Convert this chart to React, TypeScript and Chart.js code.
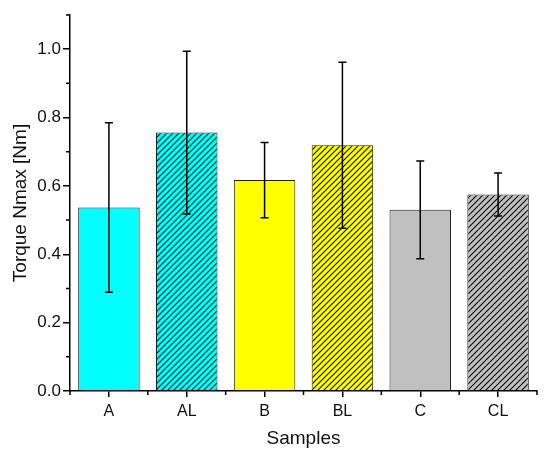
import React, { useEffect, useRef } from 'react';
import { Chart, registerables } from 'chart.js';

Chart.register(...registerables);

const categories = ['A', 'AL', 'B', 'BL', 'C', 'CL'];
const meanValues = [0.537, 0.756, 0.617, 0.719, 0.53, 0.575];
const errorValues = [0.248, 0.238, 0.11, 0.243, 0.143, 0.063];
const barColors = ['#00FFFF', '#00FFFF', '#FFFF00', '#FFFF00', '#C0C0C0', '#C0C0C0'];
const hatched = [false, true, false, true, false, true];
const yMajorTicks = [0, 0.2, 0.4, 0.6, 0.8, 1.0];
const yMinorTicks = [0.1, 0.3, 0.5, 0.7, 0.9, 1.1];

const FONT = "'Liberation Sans', Arial, sans-serif";

function makeHatch(ctx: CanvasRenderingContext2D, color: string) {
  const s = 6;
  const c = document.createElement('canvas');
  c.width = s;
  c.height = s;
  const g = c.getContext('2d') as CanvasRenderingContext2D;
  g.fillStyle = color;
  g.fillRect(0, 0, s, s);
  g.strokeStyle = '#000';
  g.lineWidth = 1.05;
  g.beginPath();
  g.moveTo(0, s);
  g.lineTo(s, 0);
  g.moveTo(-1, 1);
  g.lineTo(1, -1);
  g.moveTo(s - 1, s + 1);
  g.lineTo(s + 1, s - 1);
  g.stroke();
  return ctx.createPattern(c, 'repeat') as CanvasPattern;
}

const decorations = {
  id: 'decorations',
  afterDatasetsDraw(chart: any) {
    const ctx = chart.ctx as CanvasRenderingContext2D;
    const y = chart.scales.y;
    const x = chart.scales.x;
    const meta = chart.getDatasetMeta(0);
    ctx.save();
    ctx.strokeStyle = '#000';
    ctx.lineWidth = 1.5;
    ctx.beginPath();
    meta.data.forEach((bar: any, i: number) => {
      const top = y.getPixelForValue(meanValues[i] + errorValues[i]);
      const bot = y.getPixelForValue(meanValues[i] - errorValues[i]);
      ctx.moveTo(bar.x, top);
      ctx.lineTo(bar.x, bot);
      ctx.moveTo(bar.x - 4, top);
      ctx.lineTo(bar.x + 4, top);
      ctx.moveTo(bar.x - 4, bot);
      ctx.lineTo(bar.x + 4, bot);
    });
    yMinorTicks.forEach((v) => {
      const py = y.getPixelForValue(v);
      ctx.moveTo(y.right - 4, py);
      ctx.lineTo(y.right, py);
    });
    const half = (x.getPixelForValue(1) - x.getPixelForValue(0)) / 2;
    for (let i = 0; i <= categories.length; i++) {
      const px = x.getPixelForValue(i) - half;
      ctx.moveTo(px, x.top);
      ctx.lineTo(px, x.top + 4);
    }
    ctx.stroke();
    ctx.restore();
  },
};

export default function App() {
  const canvasRef = useRef<HTMLCanvasElement | null>(null);

  useEffect(() => {
    const canvas = canvasRef.current;
    if (!canvas) return;
    const ctx = canvas.getContext('2d') as CanvasRenderingContext2D;
    const fills = barColors.map((c, i) => (hatched[i] ? makeHatch(ctx, c) : c));
    const chart = new Chart(canvas, {
      type: 'bar',
      data: {
        labels: categories,
        datasets: [
          {
            data: meanValues,
            backgroundColor: fills as any,
            borderColor: '#222',
            borderWidth: 1,
            barPercentage: 0.79,
            categoryPercentage: 1,
          },
        ],
      },
      options: {
        animation: false,
        responsive: false,
        font: { family: FONT },
        layout: { padding: { left: 0, right: 13, top: 15, bottom: 0 } },
        plugins: { legend: { display: false }, tooltip: { enabled: false } },
        scales: {
          x: {
            offset: true,
            grid: { offset: false, drawOnChartArea: false, color: '#000', lineWidth: 1.5, tickLength: 6 },
            border: { color: '#000', width: 1.5 },
            ticks: { color: '#111', font: { size: 16, family: FONT }, padding: 5 },
            title: {
              display: true,
              text: 'Samples',
              color: '#111',
              font: { size: 19, family: FONT },
              padding: { top: 0, bottom: 10 },
            },
            afterFit: (s: any) => {
              s.height = 69;
            },
          },
          y: {
            min: 0,
            max: 1.1,
            afterBuildTicks: (s: any) => {
              s.ticks = yMajorTicks.map((v) => ({ value: v }));
            },
            grid: { drawOnChartArea: false, color: '#000', lineWidth: 1.5, tickLength: 7 },
            border: { color: '#000', width: 1.5 },
            ticks: {
              color: '#111',
              font: { size: 17, family: FONT },
              padding: 2,
              callback: (v: any) => Number(v).toFixed(1),
            },
            title: {
              display: true,
              text: 'Torque Nmax [Nm]',
              color: '#111',
              font: { size: 19, family: FONT },
              padding: { top: 9.5, bottom: 0 },
            },
            afterFit: (s: any) => {
              s.width = 70;
            },
          },
        } as any,
      },
      plugins: [decorations],
    });
    return () => chart.destroy();
  }, []);

  return (
    <div style={{ position: 'absolute', left: 0, top: 0, width: 550, height: 460, background: '#fff' }}>
      <canvas ref={canvasRef} width={550} height={460} style={{ display: 'block' }} />
    </div>
  );
}
